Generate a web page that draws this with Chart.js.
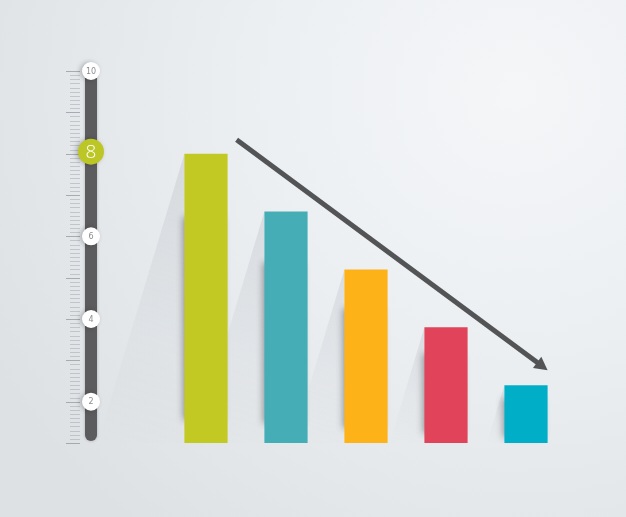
<!DOCTYPE html>
<html>
<head>
<meta charset="utf-8">
<script src="https://cdn.jsdelivr.net/npm/chart.js@4.4.0/dist/chart.umd.min.js"></script>
<style>
  html, body { margin: 0; padding: 0; }
  body {
    width: 626px; height: 517px; overflow: hidden;
    background: radial-gradient(ellipse 95% 110% at 82% 18%, #f4f6f8 0%, #eceff2 45%, #dde1e4 100%);
  }
  #wrap { position: relative; width: 626px; height: 517px; }
</style>
</head>
<body>
<div id="wrap"><canvas id="trendChart" width="626" height="517"></canvas></div>
<script>
// values
const categories = ['A', 'B', 'C', 'D', 'E'];
const values = [8, 6.6, 5.2, 3.8, 2.4];
const barColors = ['#c2c923', '#44adb5', '#fdb218', '#e1435a', '#00afc7'];
const tickLabels = [2, 4, 6, 8, 10];
const highlightTick = 8;
const scaleMin = 1;
const scaleMax = 10;

// long shadows behind the bars
const barShadows = {
    id: 'barShadows',
    beforeDatasetsDraw(chart) {
        const ctx = chart.ctx;
        const meta = chart.getDatasetMeta(0);
        const floor = chart.chartArea.bottom;
        meta.data.forEach(bar => {
            const left = bar.x - bar.width / 2;
            const base = Math.min(bar.base, floor);
            const h = base - bar.y;
            const dx = h * 0.3;
            ctx.save();
            const g = ctx.createLinearGradient(left, bar.y, left - dx, base);
            g.addColorStop(0, 'rgba(130,138,146,0.18)');
            g.addColorStop(0.6, 'rgba(130,138,146,0.05)');
            g.addColorStop(1, 'rgba(130,138,146,0)');
            ctx.fillStyle = g;
            ctx.beginPath();
            ctx.moveTo(left, bar.y);
            ctx.lineTo(left, base);
            ctx.lineTo(left - dx, base);
            ctx.closePath();
            ctx.fill();
            // soft dark edge right next to the bar, hidden behind it
            ctx.shadowColor = 'rgba(40,44,50,0.45)';
            ctx.shadowBlur = 7;
            ctx.shadowOffsetX = -3;
            ctx.fillStyle = '#8a9096';
            ctx.fillRect(left + 2, bar.y + h * 0.22, bar.width - 4, h * 0.7);
            ctx.restore();
        });
    }
};

// slider style scale on the left and the trend arrow
const decorations = {
    id: 'decorations',
    afterDatasetsDraw(chart) {
        const ctx = chart.ctx;
        const y = chart.scales.y;
        const cx = 91;
        ctx.save();

        // minor ticks
        for (let v = scaleMin; v <= scaleMax + 0.001; v += 0.1) {
            const py = Math.round(y.getPixelForValue(v)) + 0.5;
            const major = Math.abs(v - Math.round(v)) < 0.01;
            ctx.strokeStyle = major ? 'rgba(150,156,162,0.8)' : 'rgba(170,175,180,0.6)';
            ctx.lineWidth = 1;
            ctx.beginPath();
            ctx.moveTo(major ? 66 : 70, py);
            ctx.lineTo(80, py);
            ctx.stroke();
        }

        // slider track
        const top = y.getPixelForValue(scaleMax) - 5;
        const bottom = y.getPixelForValue(scaleMin) - 2;
        ctx.shadowColor = 'rgba(0,0,0,0.25)';
        ctx.shadowBlur = 3;
        ctx.fillStyle = '#5c5c5e';
        ctx.beginPath();
        ctx.roundRect(cx - 6, top, 12, bottom - top, 6);
        ctx.fill();
        ctx.shadowColor = 'transparent';

        // knobs
        tickLabels.forEach(t => {
            const py = y.getPixelForValue(t);
            const hi = t === highlightTick;
            ctx.shadowColor = 'rgba(0,0,0,0.25)';
            ctx.shadowBlur = 5;
            ctx.shadowOffsetX = -2;
            ctx.fillStyle = hi ? '#bcc625' : '#ffffff';
            ctx.beginPath();
            ctx.arc(cx, hi ? py - 2 : py, hi ? 13 : 9, 0, Math.PI * 2);
            ctx.fill();
            ctx.shadowColor = 'transparent';
            ctx.shadowOffsetX = 0;
            ctx.fillStyle = hi ? '#ffffff' : '#8a8c8f';
            ctx.font = hi ? '300 19px "Open Sans"' : '8px "DejaVu Sans"';
            ctx.textAlign = 'center';
            ctx.textBaseline = 'middle';
            ctx.fillText(String(t), cx, hi ? py - 1 : py + 0.5);
        });

        // trend arrow from the first bar to the last
        const bars = chart.getDatasetMeta(0).data;
        const first = bars[0], last = bars[bars.length - 1];
        const x0 = first.x + first.width / 2 + 9, y0 = first.y - 14;
        const x1 = last.x + last.width / 2, y1 = last.y - 15;
        const ang = Math.atan2(y1 - y0, x1 - x0);
        ctx.strokeStyle = '#535455';
        ctx.fillStyle = '#535455';
        ctx.lineWidth = 5;
        ctx.beginPath();
        ctx.moveTo(x0, y0);
        ctx.lineTo(x1 - 9 * Math.cos(ang), y1 - 9 * Math.sin(ang));
        ctx.stroke();
        ctx.beginPath();
        ctx.moveTo(x1, y1);
        ctx.lineTo(x1 - 13 * Math.cos(ang) + 7 * Math.sin(ang), y1 - 13 * Math.sin(ang) - 7 * Math.cos(ang));
        ctx.lineTo(x1 - 13 * Math.cos(ang) - 7 * Math.sin(ang), y1 - 13 * Math.sin(ang) + 7 * Math.cos(ang));
        ctx.closePath();
        ctx.fill();
        ctx.restore();
    }
};

const ctx = document.getElementById('trendChart').getContext('2d');
new Chart(ctx, {
    type: 'bar',
    data: {
        labels: categories,
        datasets: [{
            data: values,
            backgroundColor: barColors,
            borderWidth: 0,
            barPercentage: 1,
            categoryPercentage: 0.54
        }]
    },
    options: {
        responsive: false,
        animation: false,
        layout: { padding: { left: 166, right: 60, top: 71, bottom: 74 } },
        plugins: { legend: { display: false }, tooltip: { enabled: false } },
        scales: {
            x: { display: false },
            y: { display: false, min: scaleMin, max: scaleMax }
        }
    },
    plugins: [barShadows, decorations]
});
</script>
</body>
</html>
